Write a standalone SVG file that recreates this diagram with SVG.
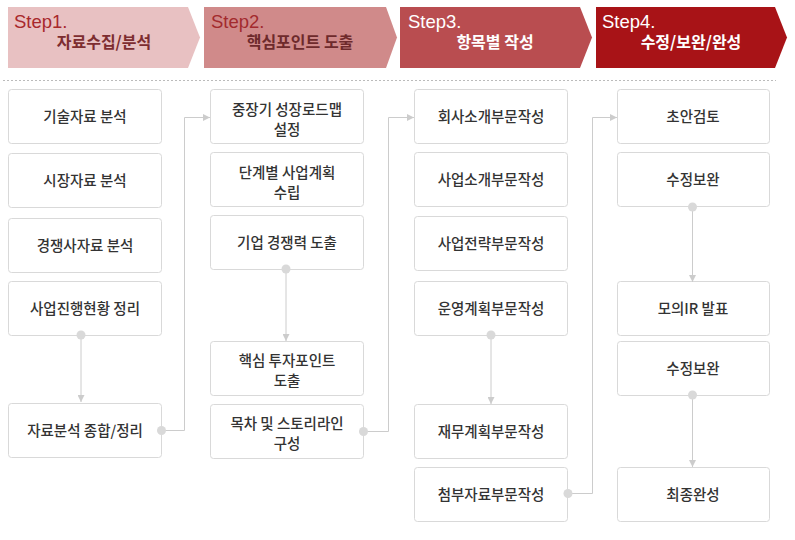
<svg xmlns="http://www.w3.org/2000/svg" width="795" height="540" viewBox="0 0 795 540">
<style>
.box{fill:#ffffff;stroke:#d9d9d9;stroke-width:1}
.t{font-family:"Noto Sans CJK KR","Noto Sans",sans-serif;font-size:14.5px;font-weight:500;fill:#333333;text-anchor:middle}
.step{font-family:"Liberation Sans","Noto Sans",sans-serif;font-size:18.5px}
.ht{font-family:"Noto Sans CJK KR",sans-serif;font-size:16px;font-weight:bold;text-anchor:middle}
.ln{fill:none;stroke:#cccccc;stroke-width:1}
.dot{fill:#d9d9d9}
</style>
<defs>
<marker id="ah" markerUnits="userSpaceOnUse" markerWidth="7" markerHeight="7" refX="7" refY="3.5" orient="auto">
<path d="M0,0 L7,3.5 L0,7 z" fill="#cccccc"/>
</marker>
</defs>
<rect width="795" height="540" fill="#ffffff"/>

<g id="header">
<g id="step1">
<polygon points="8,7 188,7 200,37.5 188,68 8,68" fill="#e8c1c2"/>
<text class="step" x="14" y="28" fill="#a8282c">Step1.</text>
<text class="ht" x="104" y="48" fill="#7d2d30">자료수집/분석</text>
</g>
<g id="step2">
<polygon points="204,7 386,7 397,37.5 386,68 204,68" fill="#d08a8a"/>
<text class="step" x="211" y="28" fill="#a32a2e">Step2.</text>
<text class="ht" x="300" y="48" fill="#6e2a2c">핵심포인트 도출</text>
</g>
<g id="step3">
<polygon points="400,7 580,7 592,37.5 580,68 400,68" fill="#b94d50"/>
<text class="step" x="408" y="28" fill="#ffffff">Step3.</text>
<text class="ht" x="495" y="48" fill="#ffffff">항목별 작성</text>
</g>
<g id="step4">
<polygon points="596,7 775,7 787,37.5 775,68 596,68" fill="#a81317"/>
<text class="step" x="602" y="28" fill="#ffffff">Step4.</text>
<text class="ht" x="691" y="48" fill="#ffffff">수정/보완/완성</text>
</g>
<line x1="3" y1="80.5" x2="776" y2="80.5" stroke="#bbbbbb" stroke-width="1" stroke-dasharray="2,2"/>
</g>

<g id="n1"><rect class="box" x="8.5" y="89.5" width="153" height="54" rx="3"/><text class="t" x="85" y="122">기술자료 분석</text></g>
<g id="n2"><rect class="box" x="8.5" y="153.5" width="153" height="54" rx="3"/><text class="t" x="85" y="186">시장자료 분석</text></g>
<g id="n3"><rect class="box" x="8.5" y="218.5" width="153" height="54" rx="3"/><text class="t" x="85" y="250.5">경쟁사자료 분석</text></g>
<g id="n4"><rect class="box" x="8.5" y="281.5" width="153" height="54" rx="3"/><text class="t" x="85" y="313.5">사업진행현황 정리</text></g>
<g id="n5"><rect class="box" x="8.5" y="403.5" width="153" height="54" rx="3"/><text class="t" x="85" y="436">자료분석 종합/정리</text></g>

<g id="n6"><rect class="box" x="210.5" y="89.5" width="153" height="54" rx="3"/><text class="t" x="287" y="114.5">중장기 성장로드맵</text><text class="t" x="287" y="134.5">설정</text></g>
<g id="n7"><rect class="box" x="210.5" y="152.5" width="153" height="54" rx="3"/><text class="t" x="287" y="177.5">단계별 사업계획</text><text class="t" x="287" y="197.5">수립</text></g>
<g id="n8"><rect class="box" x="210.5" y="215.5" width="153" height="54" rx="3"/><text class="t" x="287" y="247.5">기업 경쟁력 도출</text></g>
<g id="n9"><rect class="box" x="210.5" y="341.5" width="153" height="54" rx="3"/><text class="t" x="287" y="365.5">핵심 투자포인트</text><text class="t" x="287" y="385.5">도출</text></g>
<g id="n10"><rect class="box" x="210.5" y="404.5" width="153" height="54" rx="3"/><text class="t" x="287" y="428.5">목차 및 스토리라인</text><text class="t" x="287" y="448.5">구성</text></g>

<g id="n11"><rect class="box" x="414.5" y="89.5" width="153" height="54" rx="3"/><text class="t" x="491" y="122">회사소개부문작성</text></g>
<g id="n12"><rect class="box" x="414.5" y="152.5" width="153" height="54" rx="3"/><text class="t" x="491" y="185">사업소개부문작성</text></g>
<g id="n13"><rect class="box" x="414.5" y="216.5" width="153" height="54" rx="3"/><text class="t" x="491" y="248.5">사업전략부문작성</text></g>
<g id="n14"><rect class="box" x="414.5" y="281.5" width="153" height="54" rx="3"/><text class="t" x="491" y="313.5">운영계획부문작성</text></g>
<g id="n15"><rect class="box" x="414.5" y="404.5" width="153" height="54" rx="3"/><text class="t" x="491" y="436.5">재무계획부문작성</text></g>
<g id="n16"><rect class="box" x="414.5" y="467.5" width="153" height="54" rx="3"/><text class="t" x="491" y="499.5">첨부자료부문작성</text></g>

<g id="n17"><rect class="box" x="617.5" y="89.5" width="152" height="54" rx="3"/><text class="t" x="693" y="122">초안검토</text></g>
<g id="n18"><rect class="box" x="617.5" y="152.5" width="152" height="54" rx="3"/><text class="t" x="693" y="185">수정보완</text></g>
<g id="n19"><rect class="box" x="617.5" y="281.5" width="152" height="54" rx="3"/><text class="t" x="693" y="313.5">모의IR 발표</text></g>
<g id="n20"><rect class="box" x="617.5" y="341.5" width="152" height="54" rx="3"/><text class="t" x="693" y="373.5">수정보완</text></g>
<g id="n21"><rect class="box" x="617.5" y="467.5" width="152" height="54" rx="3"/><text class="t" x="693" y="499.5">최종완성</text></g>

<g id="connectors">
<line class="ln" x1="81" y1="335" x2="81" y2="402" marker-end="url(#ah)"/>
<polyline class="ln" points="161,430.5 184.5,430.5 184.5,117.5 210,117.5" marker-end="url(#ah)"/>
<line class="ln" x1="286" y1="269" x2="286" y2="341" marker-end="url(#ah)"/>
<polyline class="ln" points="363,431.5 388.5,431.5 388.5,117.5 414,117.5" marker-end="url(#ah)"/>
<line class="ln" x1="491" y1="335" x2="491" y2="404" marker-end="url(#ah)"/>
<polyline class="ln" points="568,493.5 592.5,493.5 592.5,117.5 617,117.5" marker-end="url(#ah)"/>
<line class="ln" x1="692.5" y1="207" x2="692.5" y2="282" marker-end="url(#ah)"/>
<line class="ln" x1="692.5" y1="395" x2="692.5" y2="467" marker-end="url(#ah)"/>
<circle class="dot" cx="81" cy="335" r="4.5"/>
<circle class="dot" cx="161.5" cy="430.5" r="4.5"/>
<circle class="dot" cx="286" cy="269" r="4.5"/>
<circle class="dot" cx="363.5" cy="431.5" r="4.5"/>
<circle class="dot" cx="491" cy="335" r="4.5"/>
<circle class="dot" cx="568" cy="493.5" r="4.5"/>
<circle class="dot" cx="692.5" cy="207" r="4.5"/>
<circle class="dot" cx="692.5" cy="395" r="4.5"/>
</g>
</svg>
